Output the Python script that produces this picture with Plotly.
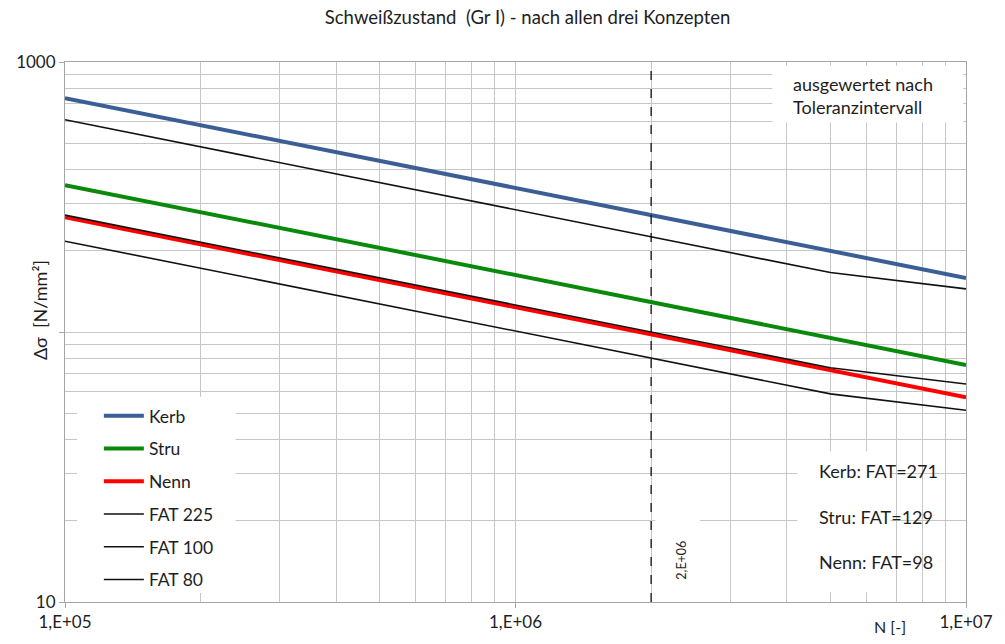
import numpy as np
import plotly.graph_objects as go

FONT = "Lato"
GRID = "#c6c6c6"
INK = "#1e1e1e"

# S-N curves (N in cycles, delta sigma in N/mm^2)
N_LINE = [1e5, 2e6, 1e7]
KERB = [735, 271, 158.6]
STRU = [350, 129, 75.5]
NENN = [266, 98, 57.3]

N_FAT = [1e5, 5e6, 1e7]
FAT225 = [611, 166, 144.5]
FAT100 = [271, 73.7, 64.2]
FAT80 = [217, 59, 51.3]

N_REF = 2e6
X_TICKS = [1e5, 1e6, 1e7]
X_LABELS = ["1,E+05", "1,E+06", "1,E+07"]
Y_TICKS = [10, 100, 1000]
Y_LABELS = ["10", "", "1000"]
X_MINOR = [m * d for d in (1e5, 1e6) for m in range(2, 10)]
Y_MINOR = [m * d for d in (10, 100) for m in range(2, 10)]

series = [
    ("Kerb", N_LINE, KERB, "#3b5e96", 4),
    ("Stru", N_LINE, STRU, "#0a8a0a", 4),
    ("Nenn", N_LINE, NENN, "#ff0000", 4),
    ("FAT 225", N_FAT, FAT225, "#111111", 1.6),
    ("FAT 100", N_FAT, FAT100, "#111111", 1.6),
    ("FAT 80", N_FAT, FAT80, "#111111", 1.6),
]

fig = go.Figure()
for name, xs, ys, col, w in series:
    fig.add_trace(go.Scatter(x=xs, y=ys, mode="lines", name=name, legendgroup=name,
                             line=dict(color=col, width=w), hoverinfo="skip"))

# reference line at 2e6 cycles
fig.add_trace(go.Scatter(x=[N_REF, N_REF], y=[Y_TICKS[0], Y_TICKS[-1]], mode="lines",
                         line=dict(color="black", width=1.2, dash="dash"),
                         showlegend=False, hoverinfo="skip"))

# white boxes (legend, notes, label) that hide the grid like in the original
boxes = [(0.0132, 0.1894, 0.0165, 0.38),
         (0.8128, 0.9163, 0.0183, 0.279),
         (0.785, 0.997, 0.888, 0.993),
         (0.655, 0.705, 0.013, 0.205)]
for x0, x1, y0, y1 in boxes:
    fig.add_shape(type="rect", xref="paper", yref="paper", x0=x0, x1=x1, y0=y0, y1=y1,
                  fillcolor="white", line_width=0, layer="above")

txt = dict(family=FONT, size=18, color=INK)
fig.add_annotation(xref="paper", yref="paper", x=0.806, y=0.9376, xanchor="left",
                   yanchor="middle", align="left", showarrow=False, font=txt,
                   text="ausgewertet nach<br>Toleranzintervall")
for lab, yy in [("Kerb: FAT=271", 0.242), ("Stru: FAT=129", 0.158), ("Nenn: FAT=98", 0.0734)]:
    fig.add_annotation(xref="paper", yref="paper", x=0.835, y=yy, xanchor="left",
                       yanchor="middle", showarrow=False, font=txt, text=lab)
fig.add_annotation(xref="paper", yref="paper", x=0.684, y=0.077, textangle=-90,
                   xanchor="center", yanchor="middle", showarrow=False,
                   font=dict(family=FONT, size=12.5, color=INK), text="2,E+06")
fig.add_annotation(xref="paper", yref="paper", x=-0.0275, y=0.541, textangle=-90,
                   xanchor="center", yanchor="middle", showarrow=False,
                   font=dict(family=FONT, size=18, color=INK), text="Δσ  [N/mm²]")
fig.add_annotation(xref="paper", yref="paper", x=0.916, y=-0.046, xanchor="center",
                   yanchor="middle", showarrow=False,
                   font=dict(family=FONT, size=16, color=INK), text="N [-]")

axis_common = dict(type="log", showgrid=True, gridcolor=GRID, gridwidth=1,
                   showline=True, linecolor="#a6a6a6", linewidth=1, mirror=True,
                   ticks="outside", ticklen=5, tickcolor="#a6a6a6", zeroline=False,
                   tickfont=dict(family=FONT, size=17, color=INK))
fig.update_xaxes(range=[np.log10(X_TICKS[0]), np.log10(X_TICKS[-1])], tickmode="array",
                 tickvals=X_TICKS, ticktext=X_LABELS,
                 minor=dict(tickmode="array", tickvals=X_MINOR, showgrid=True,
                            gridcolor=GRID, gridwidth=1, ticks=""),
                 **axis_common)
fig.update_yaxes(range=[np.log10(Y_TICKS[0]), np.log10(Y_TICKS[-1])], tickmode="array",
                 tickvals=Y_TICKS, ticktext=Y_LABELS,
                 minor=dict(tickmode="array", tickvals=Y_MINOR, showgrid=True,
                            gridcolor=GRID, gridwidth=1, ticks=""),
                 **axis_common)

fig.update_layout(
    width=1005, height=644,
    margin=dict(l=65, r=32, t=62, b=37),
    paper_bgcolor="white", plot_bgcolor="white",
    font=dict(family=FONT, color=INK),
    title=dict(text="Schweißzustand  (Gr I) - nach allen drei Konzepten",
               x=0.525, xanchor="center", y=1 - 18 / 644, yanchor="middle",
               font=dict(family=FONT, size=18.5, color=INK)),
    legend=dict(x=0.0376, y=0.378, xanchor="left", yanchor="top",
                bgcolor="rgba(0,0,0,0)", font=dict(family=FONT, size=17.5, color=INK),
                tracegroupgap=7, itemwidth=40),
    showlegend=True,
)

# figure sits at the page corner, no scrollbars, no toolbar
fig.write_html("out.html", config={"displayModeBar": False},
               post_script="document.body.style.margin='0';"
                           "document.documentElement.style.overflow='hidden';")
